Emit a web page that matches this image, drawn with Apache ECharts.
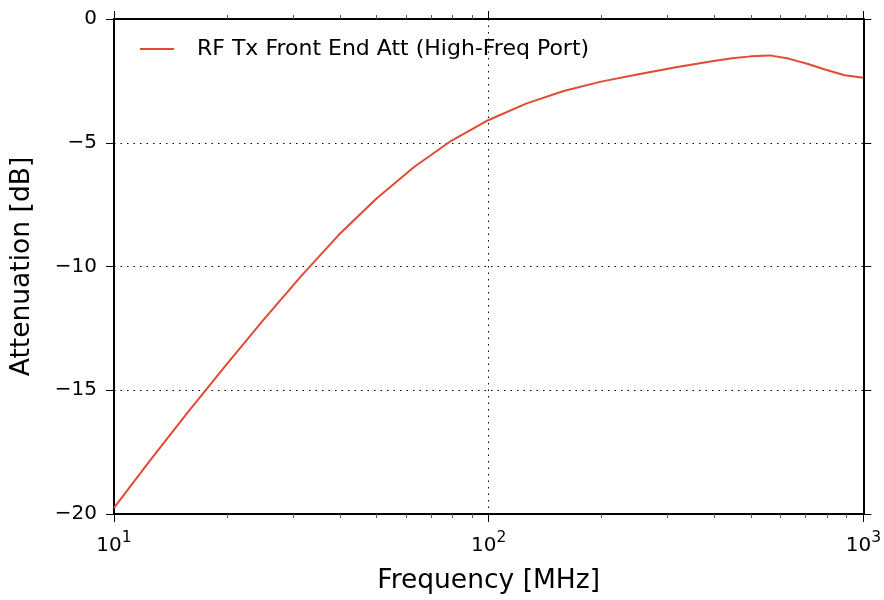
<!DOCTYPE html>
<html>
<head>
<meta charset="utf-8">
<script src="https://cdn.jsdelivr.net/npm/echarts@6/dist/echarts.min.js"></script>
<style>
html,body{margin:0;padding:0;background:#fff;}
#chart{width:884px;height:600px;}
</style>
</head>
<body>
<div id="chart"></div>
<script>
// ---- data ----
var freqMHz = [10, 12.589, 15.849, 19.953, 25.119, 31.623, 39.811, 50.119, 63.096, 79.433, 100, 125.89, 158.49, 199.53, 251.19, 316.23, 398.11, 446.68, 501.19, 562.34, 630.96, 707.95, 794.33, 891.25, 1000];
var attenDb = [-19.75, -17.76, -15.83, -13.96, -12.14, -10.38, -8.72, -7.26, -5.99, -4.92, -4.08, -3.42, -2.91, -2.53, -2.23, -1.95, -1.70, -1.59, -1.51, -1.47, -1.60, -1.81, -2.05, -2.27, -2.37];
var seriesName = 'RF Tx Front End Att (High-Freq Port)';
var xMajorTicks = [10, 100, 1000];
var xMinorTicks = [20, 30, 40, 50, 60, 70, 80, 90, 200, 300, 400, 500, 600, 700, 800, 900];
var yTicks = [-20, -15, -10, -5, 0];
var xTitle = 'Frequency [MHz]';
var yTitle = 'Attenuation [dB]';

var FONT = 'DejaVu Sans';
var lineData = freqMHz.map(function (f, i) { return [f, attenDb[i]]; });
var minorData = xMinorTicks.map(function (v) { return [v, yTicks[0]]; });

var chart = echarts.init(document.getElementById('chart'), null, {renderer: 'canvas'});

var xLabelFmt = function (v) {
  var e = Math.round(Math.log10(v));
  return '{b|10}{s|' + e + '}';
};

var commonX = {
  type: 'log', logBase: 10, min: xMajorTicks[0], max: xMajorTicks[xMajorTicks.length - 1],
  axisLine: {show: true, onZero: false, lineStyle: {color: '#000', width: 2}},
  axisTick: {show: true, inside: false, length: 8, lineStyle: {color: '#000', width: 1}},
  minorTick: {show: false},
  splitLine: {show: false}
};

var option = {
  animation: false,
  backgroundColor: '#fff',
  grid: {left: 114, right: 20, top: 19, bottom: 80, containLabel: false},
  legend: {
    show: true, left: 140, top: 38, padding: 0,
    itemWidth: 34, itemHeight: 2, icon: 'rect',
    data: [seriesName],
    textStyle: {fontFamily: FONT, fontSize: 22, color: '#000', padding: [0, 0, 0, 18]}
  },
  xAxis: [
    Object.assign({}, commonX, {
      position: 'bottom',
      name: xTitle, nameLocation: 'middle', nameGap: 54,
      nameTextStyle: {fontFamily: FONT, fontSize: 26.5, color: '#000'},
      axisLabel: {
        show: true, margin: 16, formatter: xLabelFmt,
        rich: {
          b: {fontFamily: FONT, fontSize: 20, color: '#000', verticalAlign: 'bottom', lineHeight: 26},
          s: {fontFamily: FONT, fontSize: 15.5, color: '#000', verticalAlign: 'top', lineHeight: 15}
        }
      },
      splitLine: {show: true, lineStyle: {color: '#000', width: 1, type: [1.5, 5]}}
    }),
    Object.assign({}, commonX, {
      position: 'top',
      axisLabel: {show: false}
    })
  ],
  yAxis: [
    {
      type: 'value', min: yTicks[0], max: yTicks[yTicks.length - 1], interval: 5,
      position: 'left',
      name: yTitle, nameLocation: 'middle', nameGap: 78, nameRotate: 90,
      nameTextStyle: {fontFamily: FONT, fontSize: 26.5, color: '#000'},
      axisLine: {show: true, onZero: false, lineStyle: {color: '#000', width: 2}},
      axisTick: {show: true, inside: false, length: 8, lineStyle: {color: '#000', width: 1}},
      axisLabel: {
        show: true, margin: 17, fontFamily: FONT, fontSize: 20, color: '#000',
        formatter: function (v) { return String(v).replace('-', '\u2212'); }
      },
      splitLine: {show: true, lineStyle: {color: '#000', width: 1, type: [1.5, 5]}}
    },
    {
      type: 'value', min: yTicks[0], max: yTicks[yTicks.length - 1], interval: 5,
      position: 'right',
      axisLine: {show: true, onZero: false, lineStyle: {color: '#000', width: 2}},
      axisTick: {show: true, inside: false, length: 8, lineStyle: {color: '#000', width: 1}},
      axisLabel: {show: false},
      splitLine: {show: false}
    }
  ],
  series: [
    {
      name: seriesName, type: 'line', xAxisIndex: 0, yAxisIndex: 0,
      data: lineData, showSymbol: false, symbol: 'none',
      smooth: false,
      lineStyle: {color: '#e24a33', width: 2, join: 'round'},
      itemStyle: {color: '#e24a33'},
      z: 5
    },
    {
      name: 'minorTicks', type: 'custom', xAxisIndex: 0, yAxisIndex: 0,
      data: minorData, clip: false, silent: true, z: 1,
      renderItem: function (params, api) {
        var cs = params.coordSys;
        var p = api.coord([api.value(0), api.value(1)]);
        var x = Math.round(p[0]) + 0.5;
        var yb = cs.y + cs.height, yt = cs.y;
        var st = {stroke: '#555', lineWidth: 1};
        return {
          type: 'group',
          children: [
            {type: 'line', shape: {x1: x, y1: yb, x2: x, y2: yb + 4}, style: st},
            {type: 'line', shape: {x1: x, y1: yt, x2: x, y2: yt - 4}, style: st}
          ]
        };
      }
    }
  ]
};
chart.setOption(option);
</script>
</body>
</html>
